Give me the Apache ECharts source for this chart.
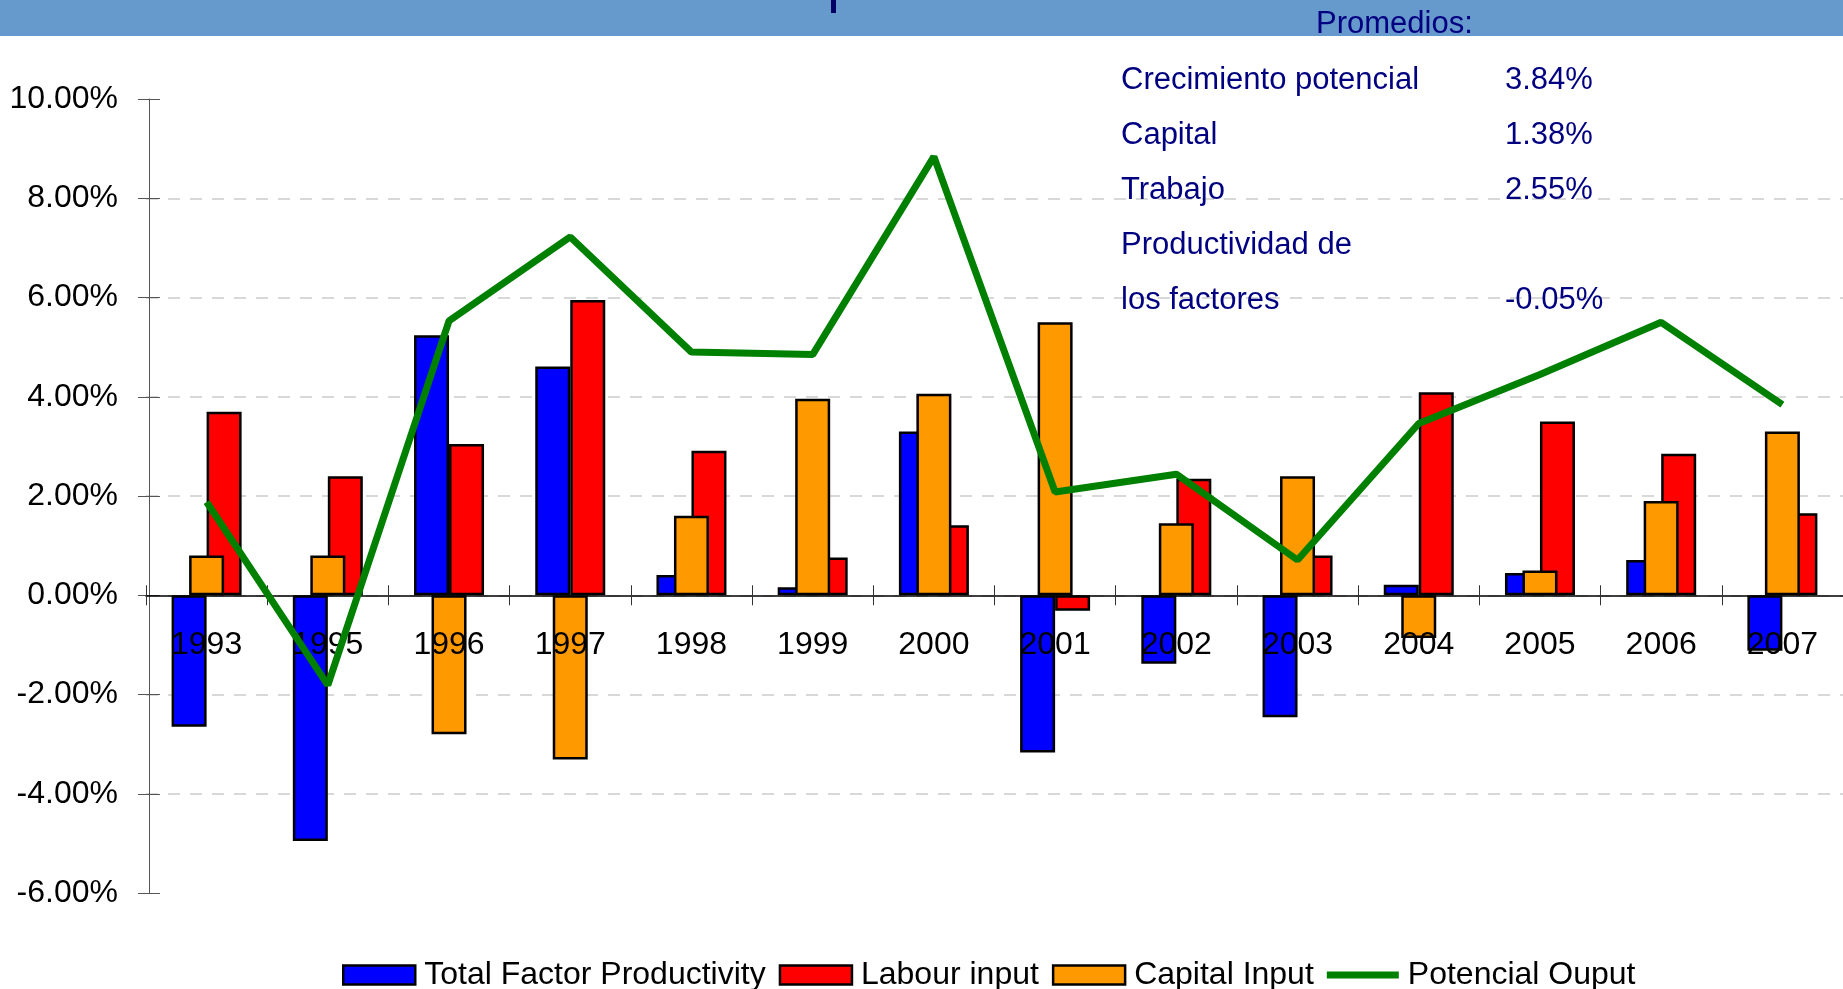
<!DOCTYPE html>
<html lang="es">
<head>
    <meta charset="UTF-8">
    <title>Crecimiento potencial</title>
    <script src="https://cdn.jsdelivr.net/npm/echarts@6/dist/echarts.min.js"></script>
    <style>
        html, body { margin: 0; padding: 0; background: #fff; }
        #main { width: 1843px; height: 989px; }
    </style>
</head>
<body>
    <div id="main"></div>
    <script>
        // data (percent)
        var years = ['1993', '1995', '1996', '1997', '1998', '1999', '2000', '2001', '2002', '2003', '2004', '2005', '2006', '2007'];
        var tfp = [-2.65, -4.95, 5.24, 4.61, 0.41, 0.16, 3.30, -3.17, -1.38, -2.46, 0.21, 0.45, 0.71, -1.12];
        var labour = [3.70, 2.40, 3.05, 5.95, 2.91, 0.76, 1.41, -0.31, 2.35, 0.80, 4.09, 3.50, 2.85, 1.65];
        var capital = [0.80, 0.80, -2.80, -3.31, 1.60, 3.96, 4.06, 5.50, 1.45, 2.40, -0.86, 0.50, 1.90, 3.30];
        var potential = [1.88, -1.81, 5.53, 7.22, 4.90, 4.85, 8.84, 2.08, 2.44, 0.71, 3.46, 4.45, 5.50, 3.84];

        var promLabels = ['Crecimiento potencial', 'Capital', 'Trabajo', 'Productividad de', 'los factores'];
        var promValues = ['3.84%', '1.38%', '2.55%', '', '-0.05%'];

        var FONT = '"Liberation Sans", Arial, sans-serif';
        var NAVY = '#000080';

        var chart = echarts.init(document.getElementById('main'));

        var graphics = [
            { type: 'rect', shape: { x: 0, y: 0, width: 1843, height: 36 }, style: { fill: '#6699CC' }, z: 0 },
            { type: 'rect', shape: { x: 831, y: 0, width: 5, height: 13 }, style: { fill: '#000066' }, z: 1 },
            { type: 'text', x: 1316, y: 24, style: { text: 'Promedios:', font: '31px ' + FONT, fill: NAVY, verticalAlign: 'middle' }, z: 1 }
        ];
        promLabels.forEach(function (t, i) {
            var y = 80 + i * 55;
            graphics.push({ type: 'text', x: 1121, y: y, style: { text: t, font: '31px ' + FONT, fill: NAVY, verticalAlign: 'middle' }, z: 1 });
            if (promValues[i]) {
                graphics.push({ type: 'text', x: 1505, y: y, style: { text: promValues[i], font: '31px ' + FONT, fill: NAVY, verticalAlign: 'middle' }, z: 1 });
            }
        });

        var barStyle = function (c) {
            return { color: c, borderColor: '#000', borderWidth: 2.5 };
        };

        var option = {
            animation: false,
            textStyle: { fontFamily: FONT },
            graphic: graphics,
            grid: { left: 146, right: 0, top: 99, bottom: 96 },
            legend: {
                left: 337,
                top: 954,
                itemWidth: 72,
                itemHeight: 19,
                itemGap: 13,
                selectedMode: false,
                textStyle: { fontSize: 32, color: '#000', padding: [0, 0, 0, 4] },
                itemStyle: { borderColor: '#000', borderWidth: 2.5 },
                data: [
                    { name: 'Total Factor Productivity', icon: 'rect' },
                    { name: 'Labour input', icon: 'rect' },
                    { name: 'Capital Input', icon: 'rect' },
                    { name: 'Potencial Ouput', icon: 'path://M0 0M0 6H72V13H0ZM72 19', itemStyle: { borderWidth: 0 } }
                ]
            },
            xAxis: [
                {
                    type: 'category',
                    data: years,
                    position: 'bottom',
                    z: 10,
                    axisLine: { onZero: true, onZeroAxisIndex: 0, lineStyle: { color: '#000', width: 1.5 } },
                    axisTick: { show: true, length: 10, lineStyle: { color: '#333' } },
                    // labels sit just under the zero line, over the bars
                    axisLabel: { fontSize: 32, color: '#000', margin: -264 },
                    splitLine: { show: false }
                },
                {
                    type: 'category',
                    data: years,
                    position: 'bottom',
                    z: 10,
                    axisLine: { show: false, onZero: true, onZeroAxisIndex: 1 },
                    axisTick: { show: true, inside: true, length: 10, lineStyle: { color: '#333' } },
                    axisLabel: { show: false },
                    splitLine: { show: false }
                }
            ],
            yAxis: [
                {
                    type: 'value',
                    min: -6,
                    max: 10,
                    interval: 2,
                    position: 'left',
                    offset: -3,
                    axisLine: { show: true, lineStyle: { color: '#555' } },
                    axisTick: { show: true, length: 11, lineStyle: { color: '#555' } },
                    axisLabel: {
                        fontSize: 32, color: '#000', margin: 31, padding: [12, 0, 0, 0],
                        formatter: function (v) { return v.toFixed(2) + '%'; }
                    },
                    splitLine: {
                        show: true,
                        showMinLine: false,
                        showMaxLine: false,
                        lineStyle: { color: '#cccccc', width: 1.5, type: [12, 10] }
                    }
                },
                {
                    type: 'value',
                    min: -6,
                    max: 10,
                    interval: 2,
                    position: 'left',
                    offset: -3,
                    axisLine: { show: false },
                    axisTick: { show: true, inside: true, length: 11, lineStyle: { color: '#555' } },
                    axisLabel: { show: false },
                    splitLine: { show: false }
                }
            ],
            series: [
                {
                    name: 'Total Factor Productivity',
                    type: 'bar',
                    xAxisIndex: 0,
                    data: tfp,
                    barWidth: 35,
                    barGap: '0%',
                    itemStyle: barStyle('#0000FF'),
                    z: 2
                },
                {
                    name: 'Labour input',
                    type: 'bar',
                    xAxisIndex: 0,
                    data: labour,
                    barWidth: 35,
                    barGap: '0%',
                    itemStyle: barStyle('#FF0000'),
                    z: 2
                },
                {
                    name: 'Capital Input',
                    type: 'bar',
                    xAxisIndex: 1,
                    data: capital,
                    barWidth: 35,
                    itemStyle: barStyle('#FF9900'),
                    z: 3
                },
                {
                    name: 'Potencial Ouput',
                    type: 'line',
                    xAxisIndex: 0,
                    data: potential,
                    symbol: 'none',
                    color: '#008000',
                    lineStyle: { color: '#008000', width: 7 },
                    z: 12
                }
            ]
        };

        chart.setOption(option);
    </script>
</body>
</html>
